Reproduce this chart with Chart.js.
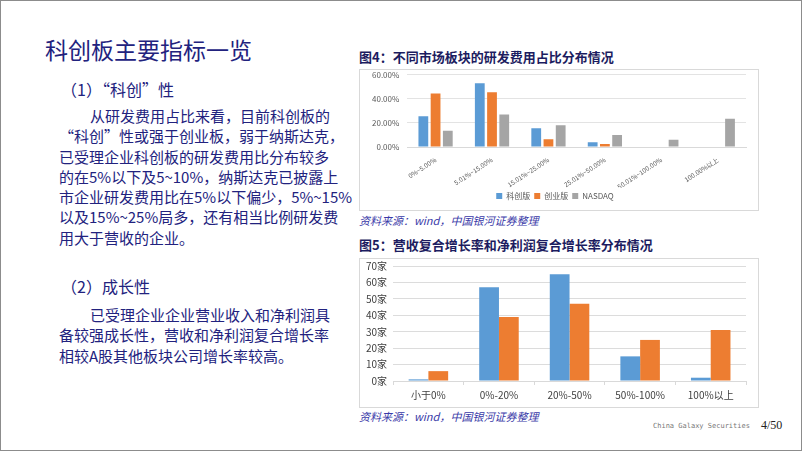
<!DOCTYPE html>
<html>
<head>
<meta charset="utf-8">
<script src="https://cdn.jsdelivr.net/npm/chart.js@4/dist/chart.umd.min.js"></script>
<style>
  body { margin: 0; background: #fff; }
  .slide { position: relative; width: 802px; height: 451px; box-sizing: border-box; border: 1px solid #8c8c8c; overflow: hidden; font-family: "Noto Sans CJK SC", sans-serif; }
  .abs { position: absolute; white-space: nowrap; }
  .title { left: 44px; top: 31px; font-size: 23px; color: #22227e; }
  .sub { font-size: 16px; color: #22227e; }
  .para { font-size: 15px; line-height: 20.3px; color: #22227e; font-family: "Liberation Sans Narrow", "Noto Sans CJK SC", sans-serif; }
  .ctitle { left: 358px; font-size: 13px; font-weight: bold; color: #1c1c60; }
  .src { left: 358px; font-size: 11px; font-style: italic; color: #3a3aa8; }
  .box { position: absolute; border: 1px solid #d9d9d9; background: #fff; }
  .box canvas { position: absolute; left: 0; }
</style>
</head>
<body>
<div class="slide">
  <div class="abs title">科创板主要指标一览</div>

  <div class="abs sub" style="left:60px; top:76px;">（1）“科创”性</div>
  <div class="abs para" style="left:58px; top:105px;">
    <span style="padding-left:31px">从研发费用占比来看，目前科创板的</span><br>
    “科创”性或强于创业板，弱于纳斯达克，<br>
    已受理企业科创板的研发费用比分布较多<br>
    的在5%以下及5~10%，纳斯达克已披露上<br>
    市企业研发费用比在5%以下偏少，5%~15%<br>
    以及15%~25%局多，还有相当比例研发费<br>
    用大于营收的企业。
  </div>

  <div class="abs sub" style="left:60px; top:273px;">（2）成长性</div>
  <div class="abs para" style="left:58px; top:304px;">
    <span style="padding-left:31px">已受理企业企业营业收入和净利润具</span><br>
    备较强成长性，营收和净利润复合增长率<br>
    相较A股其他板块公司增长率较高。
  </div>

  <div class="abs ctitle" style="top:46px;">图4：不同市场板块的研发费用占比分布情况</div>
  <div class="box" style="left:358px; top:68px; width:398px; height:140px;">
    <canvas id="rdChart" width="398" height="148" style="top:-8px;"></canvas>
  </div>
  <div class="abs src" style="top:211px;">资料来源：wind，中国银河证券整理</div>

  <div class="abs ctitle" style="top:234px;">图5：营收复合增长率和净利润复合增长率分布情况</div>
  <div class="box" style="left:358px; top:257px; width:398px; height:148px;">
    <canvas id="growthChart" width="398" height="153" style="top:-5px;"></canvas>
  </div>
  <div class="abs src" style="top:407px;">资料来源：wind，中国银河证券整理</div>

  <div class="abs" style="left:652px; top:421px; font-size:7px; color:#777; font-family:'DejaVu Sans Mono', monospace;">China Galaxy Securities</div>
  <div class="abs" style="left:760px; top:417px; font-size:12px; color:#222; font-family:'Liberation Serif', serif;">4/50</div>
</div>

<script>
  // 图4 data
  const rdCategories = ['0%~5.00%', '5.01%~15.00%', '15.01%~25.00%', '25.01%~50.00%', '50.01%~100.00%', '100.00%以上'];
  const kcbShare = [25.5, 53, 15.5, 4, 0.5, 0.5];
  const cybShare = [44.5, 45.5, 6.5, 2.5, 0, 0];
  const nasdaqShare = [13.5, 27, 18, 10, 6, 23.5];
  const rdTicks = [0, 10, 20, 30, 40, 50, 60];

  // 图5 data
  const growthCategories = ['小于0%', '0%-20%', '20%-50%', '50%-100%', '100%以上'];
  const revenueCount = [1, 57, 65, 15, 2];
  const profitCount = [6, 39, 47, 25, 31];
  const growthTicks = [0, 10, 20, 30, 40, 50, 60, 70];

  const BLUE = '#5b9bd5';
  const ORANGE = '#ed7d31';
  const GRAY = '#a5a5a5';

  Chart.defaults.font.family = '"Noto Sans CJK SC", sans-serif';
  Chart.defaults.animation = false;

  new Chart(document.getElementById('rdChart'), {
    type: 'bar',
    data: {
      labels: rdCategories,
      datasets: [
        { label: '科创版', data: kcbShare, backgroundColor: BLUE },
        { label: '创业版', data: cybShare, backgroundColor: ORANGE },
        { label: 'NASDAQ', data: nasdaqShare, backgroundColor: GRAY }
      ]
    },
    options: {
      responsive: false,
      categoryPercentage: 0.65,
      barPercentage: 0.8,
      layout: { padding: { top: 2, right: 12, left: 4, bottom: 0 } },
      plugins: {
        legend: {
          position: 'bottom',
          labels: { boxWidth: 6, boxHeight: 6, padding: 4, font: { size: 8 }, color: '#595959' }
        },
        tooltip: { enabled: false }
      },
      scales: {
        x: {
          grid: { display: false },
          border: { color: '#d9d9d9' },
          // labels are clipped to the axis box, so keep it just tall enough
          afterFit: axis => { axis.height = 41; },
          ticks: { minRotation: 33, maxRotation: 33, font: { size: 6.5 }, color: '#595959', padding: 1 }
        },
        y: {
          min: 0, max: 60,
          afterBuildTicks: axis => { axis.ticks = rdTicks.map(v => ({ value: v })); },
          grid: { color: '#e3e3e3', drawTicks: false },
          border: { display: false },
          ticks: { font: { size: 8 }, color: '#595959', padding: 8, callback: v => v.toFixed(2) + '%' }
        }
      }
    }
  });

  new Chart(document.getElementById('growthChart'), {
    type: 'bar',
    data: {
      labels: growthCategories,
      datasets: [
        { label: '营收复合增长率', data: revenueCount, backgroundColor: BLUE },
        { label: '净利润复合增长率', data: profitCount, backgroundColor: ORANGE }
      ]
    },
    options: {
      responsive: false,
      categoryPercentage: 0.56,
      barPercentage: 1,
      layout: { padding: { top: 0, right: 12, left: 0, bottom: 2 } },
      plugins: { legend: { display: false }, tooltip: { enabled: false } },
      scales: {
        x: {
          grid: { offset: true, drawOnChartArea: false, tickLength: 4, color: '#d9d9d9' },
          border: { color: '#d9d9d9' },
          ticks: { font: { size: 10 }, color: '#404040', padding: 4 }
        },
        y: {
          min: 0, max: 70,
          afterBuildTicks: axis => { axis.ticks = growthTicks.map(v => ({ value: v })); },
          grid: { color: '#dcdcdc', drawTicks: false },
          border: { display: false },
          ticks: { font: { size: 10 }, color: '#404040', padding: 6, callback: v => v + '家' }
        }
      }
    }
  });
</script>
</body>
</html>
